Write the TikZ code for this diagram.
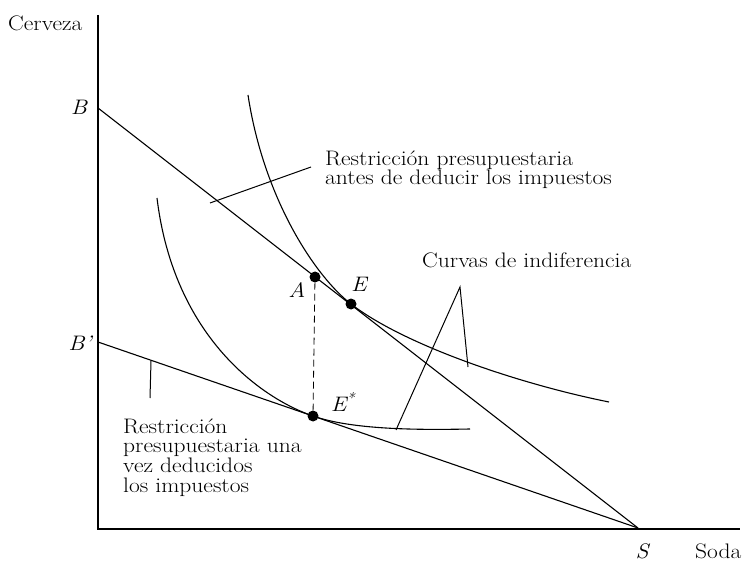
\documentclass[tikz,border=0pt]{standalone}
\usepackage{fontspec}
\setmainfont{Latin Modern Roman}[FakeStretch=1.12]
\usetikzlibrary{positioning}

\begin{document}
\begin{tikzpicture}[x=1pt, y=-1pt,
  axis/.style={line width=1.6pt},
  curve/.style={line width=1.1pt},
  leader/.style={line width=1pt},
  dot/.style={circle, fill, inner sep=0pt, minimum size=11pt},
  lbl/.style={font=\fontsize{21}{19.6}\selectfont, inner sep=0pt},
  pt/.style={lbl, font=\fontsize{21}{19.6}\selectfont\itshape}
]
  \useasboundingbox (0,0) rectangle (744,561);

  % axes
  \coordinate (O)    at (98,529);
  \coordinate (ytop) at (98,15);
  \coordinate (xend) at (740,529);
  \draw[axis] (ytop) -- (O) -- (xend);

  % budget lines
  \coordinate (B)  at (98,108);
  \coordinate (Bp) at (98,342);
  \coordinate (S)  at (638,528);
  \draw[curve] (B) -- (S);
  \draw[curve] (Bp) -- (S);

  % points
  \node[dot] (A)  at (315,277) {};
  \node[dot] (E)  at (351,304) {};
  \node[dot] (Es) at (313,416) {};
  \draw[line width=0.8pt, dash pattern=on 7pt off 4pt] (A) -- (Es);

  % indifference curves
  \coordinate (ic1top) at (248,95);
  \coordinate (ic1end) at (609,402);
  \coordinate (ic2top) at (157,198);
  \coordinate (ic2end) at (470,429);
  \draw[curve] (ic1top) .. controls (264,200) and (316,277) .. (E.center)
               .. controls (404,345) and (519,384) .. (ic1end);
  \draw[curve] (ic2top) .. controls (174,338) and (263,399) .. (Es.center)
               .. controls (353,430) and (420,430) .. (ic2end);

  % labels
  \node[lbl, anchor=base west] (cerveza) at (8,31) {Cerveza};
  \node[lbl, anchor=base west] (soda) at (695,558) {Soda};
  \node[pt] (labB)  at (79,107) {B};
  \node[pt] (labBp) at (80,343) {B’};
  \node[pt] (labS)  at (642,551) {S};
  \node[pt] (labA)  at (297,290) {A};
  \node[pt] (labE)  at (359,284) {E};
  \node[pt] (labEs) at (343,402) {E\textsuperscript{*}};

  % leader labels
  \node[lbl, anchor=base west, align=left] (before) at (325,185)
    {Restricción presupuestaria\\antes de deducir los impuestos};
  \node[lbl, anchor=base west] (curvas) at (422,268) {Curvas de indiferencia};
  \node[lbl, anchor=base west, align=left] (after) at (123,492)
    {Restricción\\presupuestaria una\\vez deducidos\\los impuestos};

  \coordinate (l1a) at (210,203);
  \coordinate (l1b) at (311,167);
  \draw[leader] (l1a) -- (l1b);
  \coordinate (apex) at (460,287);
  \coordinate (l2a) at (468,367);
  \coordinate (l2b) at (396,430);
  \draw[leader] (l2a) -- (apex) -- (l2b);
  \coordinate (l3a) at (151,361);
  \coordinate (l3b) at (150,398);
  \draw[leader] (l3a) -- (l3b);
\end{tikzpicture}
\end{document}
